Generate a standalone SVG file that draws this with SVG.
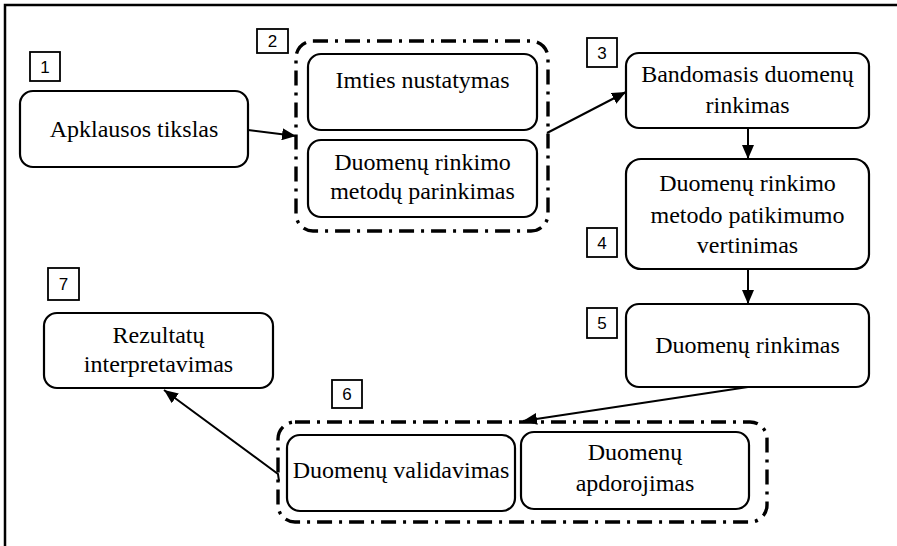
<svg xmlns="http://www.w3.org/2000/svg" width="897" height="546" viewBox="0 0 897 546">
<defs>
<marker id="ah" markerUnits="userSpaceOnUse" markerWidth="14" markerHeight="12" refX="14" refY="6" orient="auto">
<path d="M0,0 L14,6 L0,12 z" fill="#000"/>
</marker>
<style>
.box{fill:#fff;stroke:#000;stroke-width:2.2}
.grp{fill:none;stroke:#000;stroke-width:3.4;stroke-dasharray:15 7 3 7}
.nb{fill:#fff;stroke:#000;stroke-width:1.8}
.c{fill:none;stroke:#000;stroke-width:2;marker-end:url(#ah)}
</style>
</defs>
<rect x="5" y="5" width="910" height="560" fill="#fff" stroke="#000" stroke-width="2.5"/>

<g font-family="'Liberation Serif', 'Times New Roman', serif" font-size="24" text-anchor="middle" fill="#000">
<g id="n1">
<rect class="nb" x="30" y="52" width="30" height="29"/><text font-family="'Liberation Sans', Arial, sans-serif" font-size="17" x="45" y="73">1</text>
<rect class="box" x="20" y="91" width="228" height="76" rx="13"/>
<text x="134" y="137">Apklausos tikslas</text>
</g>

<g id="n2">
<rect class="nb" x="257" y="29" width="31" height="24"/><text font-family="'Liberation Sans', Arial, sans-serif" font-size="17" x="272.5" y="47">2</text>
<rect class="grp" x="296" y="41" width="252" height="190" rx="17"/>
<g id="n2a">
<rect class="box" x="308" y="54" width="229" height="76" rx="13"/>
<text x="422.5" y="88">Imties nustatymas</text>
</g>
<g id="n2b">
<rect class="box" x="308" y="140" width="229" height="77" rx="13"/>
<text x="422.5" y="170">Duomenų rinkimo</text>
<text x="422.5" y="199">metodų parinkimas</text>
</g>
</g>

<g id="n3">
<rect class="nb" x="587" y="38" width="30" height="29"/><text font-family="'Liberation Sans', Arial, sans-serif" font-size="17" x="602" y="59">3</text>
<rect class="box" x="626" y="53" width="243" height="75" rx="13"/>
<text x="747.5" y="82">Bandomasis duomenų</text>
<text x="747.5" y="113">rinkimas</text>
</g>

<g id="n4">
<rect class="nb" x="587" y="228" width="30" height="29"/><text font-family="'Liberation Sans', Arial, sans-serif" font-size="17" x="602" y="249">4</text>
<rect class="box" x="626" y="159" width="243" height="110" rx="15"/>
<text x="747.5" y="191">Duomenų rinkimo</text>
<text x="747.5" y="223">metodo patikimumo</text>
<text x="747.5" y="253">vertinimas</text>
</g>

<g id="n5">
<rect class="nb" x="587" y="308" width="30" height="30"/><text font-family="'Liberation Sans', Arial, sans-serif" font-size="17" x="602" y="329">5</text>
<rect class="box" x="626" y="304" width="243" height="83" rx="13"/>
<text x="747.5" y="353">Duomenų rinkimas</text>
</g>

<g id="n6">
<rect class="nb" x="332" y="380" width="30" height="28"/><text font-family="'Liberation Sans', Arial, sans-serif" font-size="17" x="347" y="400">6</text>
<rect class="grp" x="278" y="422" width="489" height="100" rx="17"/>
<g id="n6a">
<rect class="box" x="287" y="435" width="228" height="76" rx="13"/>
<text x="401" y="478">Duomenų validavimas</text>
</g>
<g id="n6b">
<rect class="box" x="521" y="432" width="228" height="77" rx="13"/>
<text x="635" y="460">Duomenų</text>
<text x="635" y="491">apdorojimas</text>
</g>
</g>

<g id="n7">
<rect class="nb" x="48" y="268" width="31" height="32"/><text font-family="'Liberation Sans', Arial, sans-serif" font-size="17" x="63.5" y="290">7</text>
<rect class="box" x="44" y="313" width="229" height="75" rx="13" stroke-width="3.5"/>
<text x="158.5" y="343">Rezultatų</text>
<text x="158.5" y="372">interpretavimas</text>
</g>
</g>

<g id="connectors">
<line class="c" x1="248" y1="130" x2="296" y2="136"/>
<line class="c" x1="547" y1="133" x2="626" y2="92"/>
<line class="c" x1="748" y1="128" x2="748" y2="159"/>
<line class="c" x1="748" y1="269" x2="748" y2="304"/>
<line class="c" x1="748" y1="387" x2="523" y2="421"/>
<polyline class="c" points="279,481 278,474 164,390"/>
</g>
</svg>
